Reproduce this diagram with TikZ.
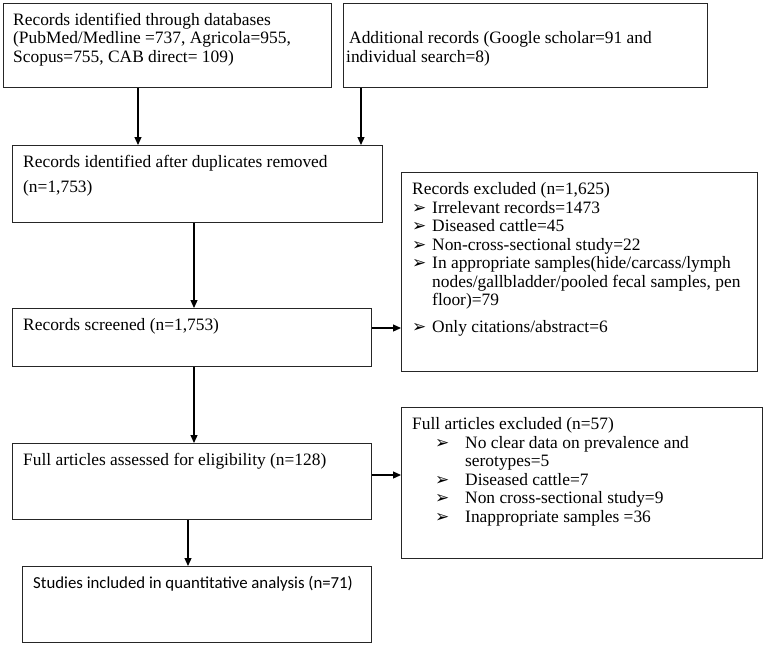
\documentclass[tikz,border=0pt]{standalone}
\usepackage{fontspec}
\setmainfont{Liberation Serif}
\newfontfamily\calibrifont{Carlito}
\newfontfamily\dingfont{DejaVu Sans}
\usetikzlibrary{arrows.meta}

% bullet arrowhead used in the exclusion boxes
\newcommand{\pnt}[1]{\makebox[#1][l]{\dingfont\fontsize{17}{17}\selectfont ➢}}

\begin{document}
\begin{tikzpicture}[
  x=1pt, y=-1pt,
  box/.style={draw=black!85, line width=1.1pt, rectangle, inner sep=0pt, anchor=north west},
  txt/.style={inner sep=0pt, anchor=base west, align=left, font=\fontsize{17.4}{18.5}\selectfont},
  arr/.style={line width=1.2pt, -{Triangle[length=8pt,width=7pt]}}
]
\useasboundingbox (0,0) rectangle (765,646);

% boxes
\node[box, minimum width=328pt, minimum height=84pt] (db) at (3,3) {};
\node[box, minimum width=364pt, minimum height=84pt] (extra) at (343,3) {};
\node[box, minimum width=370pt, minimum height=77pt] (dedup) at (12,145) {};
\node[box, minimum width=359pt, minimum height=58pt] (screen) at (12,308) {};
\node[box, minimum width=356pt, minimum height=199pt] (excl) at (401,172) {};
\node[box, minimum width=359pt, minimum height=76pt] (full) at (12,443) {};
\node[box, minimum width=361pt, minimum height=151pt] (fullexcl) at (401,407) {};
\node[box, minimum width=349pt, minimum height=76pt] (incl) at (22,566) {};

% texts (base = last line)
\node[txt] (dbtxt) at (13,62) {Records identified through databases\\
  (PubMed/Medline =737, Agricola=955,\\
  Scopus=755, CAB direct= 109)};
\node[txt] (extratxt) at (346,62) {\hspace{3pt}Additional records (Google scholar=91 and\\
  individual search=8)};
\node[txt] (deduptxt) at (23,192) {Records identified after duplicates removed\\[6.5pt]
  (n=1,753)};
\node[txt] (screentxt) at (23,330) {Records screened (n=1,753)};
\node[txt] (excltxt) at (412,332) {Records excluded (n=1,625)\\
  \pnt{20pt}Irrelevant records=1473\\
  \pnt{20pt}Diseased cattle=45\\
  \pnt{20pt}Non-cross-sectional study=22\\
  \pnt{20pt}In appropriate samples(hide/carcass/lymph\\
  \hspace{20pt}nodes/gallbladder/pooled fecal samples, pen\\
  \hspace{20pt}floor)=79\\[8pt]
  \pnt{20pt}Only citations/abstract=6};
\node[txt] (fulltxt) at (23,465) {Full articles assessed for eligibility (n=128)};
\node[txt] (fullexcltxt) at (412,522) {Full articles excluded (n=57)\\
  \hspace{23pt}\pnt{30pt}No clear data on prevalence and\\
  \hspace{53pt}serotypes=5\\
  \hspace{23pt}\pnt{30pt}Diseased cattle=7\\
  \hspace{23pt}\pnt{30pt}Non cross-sectional study=9\\
  \hspace{23pt}\pnt{30pt}Inappropriate samples =36};
\node[txt, font=\calibrifont\fontsize{16.8}{18.5}\selectfont] (incltxt) at (33,588)
  {Studies included in quantitative analysis (n=71)};

% connectors
\coordinate (c1) at (138,0);
\coordinate (c2) at (361,0);
\coordinate (c3) at (194,0);
\coordinate (c4) at (188,0);
\coordinate (r1) at (0,328);
\coordinate (r2) at (0,475);
\draw[arr] (db.south -| c1) -- (dedup.north -| c1);
\draw[arr] (extra.south -| c2) -- (dedup.north -| c2);
\draw[arr] (dedup.south -| c3) -- (screen.north -| c3);
\draw[arr] (screen.east |- r1) -- (excl.west |- r1);
\draw[arr] (screen.south -| c3) -- (full.north -| c3);
\draw[arr] (full.east |- r2) -- (fullexcl.west |- r2);
\draw[arr] (full.south -| c4) -- (incl.north -| c4);
\end{tikzpicture}
\end{document}
